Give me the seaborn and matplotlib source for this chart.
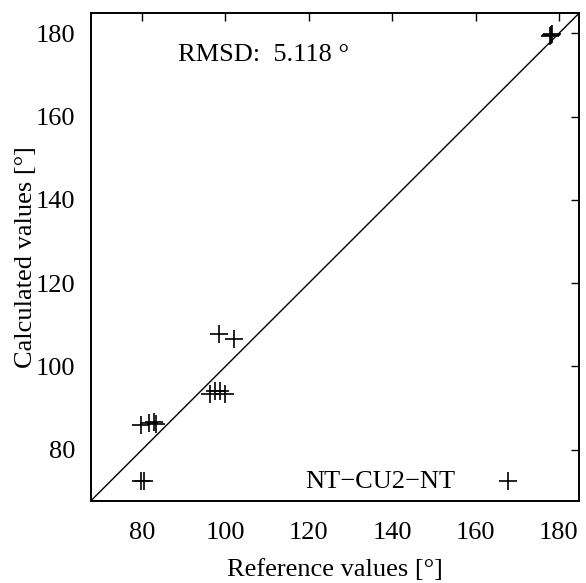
import matplotlib
matplotlib.use("Agg")
import matplotlib.pyplot as plt
import seaborn as sns
import pandas as pd

# Reference vs. calculated bond angles (degrees)
reference = [177.8, 178.1, 178.3,
             98.4, 102.0,
             96.4, 97.5, 98.6, 100.0,
             79.8, 81.7, 82.8, 83.3,
             79.8, 80.4]
calculated = [179.3, 179.6, 179.8,
              107.8, 106.6,
              93.4, 94.1, 94.0, 93.5,
              86.0, 86.4, 86.6, 86.3,
              72.6, 72.6]
series_label = "NT\u2212CU2\u2212NT"
rmsd_text = "RMSD:  5.118 \u00b0"
ticks = [80, 100, 120, 140, 160, 180]
lims = (67.7, 184.8)

df = pd.DataFrame({"ref": reference, "calc": calculated})

sns.set_theme(style="white")
plt.rcParams["font.family"] = ["Liberation Serif", "DejaVu Serif"]
plt.rcParams["text.color"] = "black"
plt.rcParams["axes.labelcolor"] = "black"

FS = 19

fig = plt.figure(figsize=(5.86, 5.83), dpi=100)
ax = fig.add_axes([0.1548, 0.1407, 0.988 - 0.1548, 0.9772 - 0.1407])

# identity line
ax.plot(lims, lims, color="black", lw=1.0, zorder=1)

sns.scatterplot(data=df, x="ref", y="calc", marker="+", s=170,
                color="black", linewidth=1.2, ax=ax, label=series_label,
                zorder=3)

ax.set_xlim(lims)
ax.set_ylim(lims)
ax.set_xticks(ticks)
ax.set_yticks(ticks)
ax.tick_params(direction="in", length=6, width=1.0, top=True, right=True,
               labelsize=FS, colors="black")
ax.tick_params(axis="x", pad=15)
ax.tick_params(axis="y", pad=11)
for s in ax.spines.values():
    s.set_color("black")
    s.set_linewidth(1.4)

ax.set_xlabel("Reference values [\u00b0]", fontsize=FS, labelpad=11)
ax.set_ylabel("Calculated values [\u00b0]", fontsize=FS, labelpad=-1)

ax.text(0.179, 0.915, rmsd_text, transform=ax.transAxes, fontsize=FS,
        ha="left", va="center")

ax.legend(loc="center right", frameon=False, markerfirst=False, fontsize=FS,
          handletextpad=1.6, handlelength=0.8, borderpad=0, borderaxespad=0,
          bbox_to_anchor=(0.876, 0.041))

fig.savefig("out.png", dpi=100)
